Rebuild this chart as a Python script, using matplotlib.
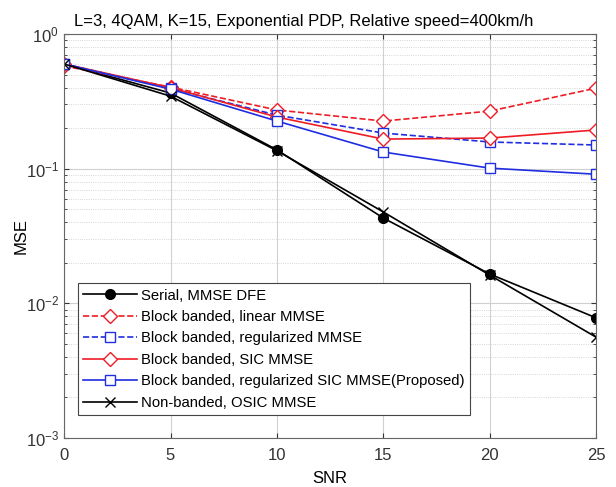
import numpy as np
import matplotlib
matplotlib.use("Agg")
import matplotlib.pyplot as plt

plt.rcParams['font.family'] = ['Liberation Sans', 'DejaVu Sans']

snr = [0, 5, 10, 15, 20, 25]

serial_dfe = [0.60, 0.365, 0.138, 0.043, 0.0165, 0.0078]
linear_mmse = [0.58, 0.404, 0.273, 0.226, 0.268, 0.397]
reg_mmse = [0.60, 0.395, 0.250, 0.184, 0.158, 0.150]
sic_mmse = [0.60, 0.400, 0.242, 0.166, 0.169, 0.194]
reg_sic_mmse = [0.60, 0.390, 0.226, 0.133, 0.101, 0.091]
osic_mmse = [0.60, 0.346, 0.136, 0.0477, 0.0162, 0.0056]

labels = ["Serial, MMSE DFE",
          "Block banded, linear MMSE",
          "Block banded, regularized MMSE",
          "Block banded, SIC MMSE",
          "Block banded, regularized SIC MMSE(Proposed)",
          "Non-banded, OSIC MMSE"]

fig = plt.figure(figsize=(6.16, 4.87), dpi=100)
ax = fig.add_axes([0.104, 0.1006, 0.864, 0.8294])

ax.semilogy(snr, serial_dfe, '-o', color='black', mfc='black', ms=7, lw=1.2, label=labels[0])
ax.semilogy(snr, linear_mmse, '--D', color='#ee1c24', mfc='white', ms=7, lw=1.2, label=labels[1])
ax.semilogy(snr, reg_mmse, '--s', color='#1f2ee0', mfc='white', ms=6.5, lw=1.2, label=labels[2])
ax.semilogy(snr, sic_mmse, '-D', color='#ee1c24', mfc='white', ms=7, lw=1.2, label=labels[3])
ax.semilogy(snr, reg_sic_mmse, '-s', color='#1f2ee0', mfc='white', ms=6.5, lw=1.2, label=labels[4])
ax.semilogy(snr, osic_mmse, '-x', color='black', ms=7, lw=1.2, label=labels[5])

ax.set_xlim(0, 25)
ax.set_ylim(1e-3, 1)
ax.set_xticks(snr)
ax.grid(True, which='major', color='#d0d0d0', lw=0.8)
ax.grid(True, which='minor', color='#c8c8c8', lw=0.6, ls=':')
ax.tick_params(which='both', direction='in', top=True, right=True, labelsize=12, colors='#333333')
ax.tick_params(axis='x', pad=7)
for s in ax.spines.values():
    s.set_color('#666666')

ax.set_xlabel("SNR", fontsize=12, labelpad=6)
ax.set_ylabel("MSE", fontsize=12, labelpad=-2)
ax.set_title("L=3, 4QAM, K=15, Exponential PDP, Relative speed=400km/h", fontsize=12, x=0.45)

leg = ax.legend(loc='lower left', bbox_to_anchor=(0.026, 0.057), borderaxespad=0,
                fontsize=10.7, fancybox=False, edgecolor='#444444', framealpha=1,
                handlelength=3.6, borderpad=0.35, labelspacing=0.5, handletextpad=0.3)
leg.get_frame().set_linewidth(0.8)

fig.savefig("out.png", dpi=100)
